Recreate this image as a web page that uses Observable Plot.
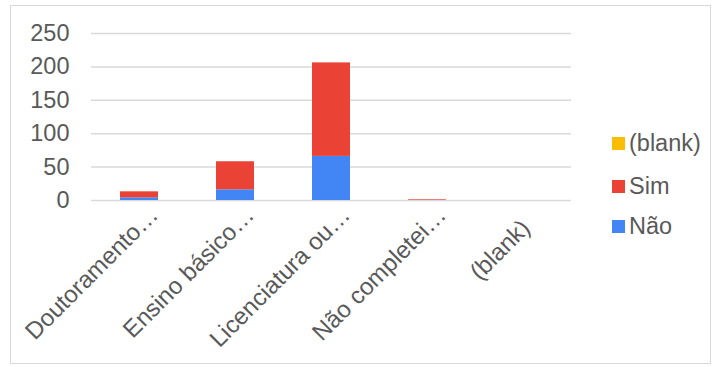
<!DOCTYPE html>
<html>
<head>
<meta charset="utf-8">
<script src="https://cdn.jsdelivr.net/npm/d3@7"></script>
<script src="https://cdn.jsdelivr.net/npm/@observablehq/plot@0.6"></script>
<style>
  html, body { margin: 0; padding: 0; background: #fff; }
  #wrap { position: relative; width: 720px; height: 367px; overflow: hidden;
          font-family: "Liberation Sans", Arial, sans-serif; color: #595959; }
  #frame { position: absolute; left: 10px; top: 5px; width: 701px; height: 359px;
           border: 1px solid #d9d9d9; box-sizing: border-box; pointer-events: none; }
  #chart { position: absolute; left: 0; top: 0; }
  #legend { position: absolute; left: 612px; top: 130px; font-size: 23.5px; }
  .item { position: absolute; left: 0; height: 26px; white-space: nowrap; }
  .sw { position: absolute; left: 0; top: 7px; width: 13px; height: 13px; }
  .lab { position: absolute; left: 17px; top: 0; line-height: 26px; }
</style>
</head>
<body>
<div id="wrap">
  <div id="chart"></div>
  <div id="legend"></div>
  <div id="frame"></div>
</div>
<script>
// Education level (truncated as in the source sheet)
const categories = ["Doutoramento…", "Ensino básico…", "Licenciatura ou…", "Não completei…", "(blank)"];
// Answer series, stacked bottom to top
const seriesNames = ["Não", "Sim", "(blank)"];
const seriesColors = ["#4285F4", "#EA4335", "#FBBC04"];
const naoValues = [4, 16, 66, 0, 0];
const simValues = [9, 42, 140, 1, 0];
const blankValues = [0, 0, 0, 0, 0];
const yTicks = [0, 50, 100, 150, 200, 250];

const seriesValues = [naoValues, simValues, blankValues];
const rows = [];
seriesNames.forEach((s, si) => {
  categories.forEach((c, ci) => rows.push({category: c, series: s, value: seriesValues[si][ci]}));
});

// Category labels: the long (truncated) ones sit flush against the axis,
// the short "(blank)" one is set slightly further down its slant.
const longLabels = categories.filter(c => c.endsWith("…"));
const shortLabels = categories.filter(c => !c.endsWith("…"));
const labelStyle = {
  x: d => d,
  frameAnchor: "bottom",
  text: d => d,
  rotate: -45,
  textAnchor: "end",
  lineAnchor: "bottom",
  fontSize: 24,
  fill: "#595959"
};

const chart = Plot.plot({
  width: 720,
  height: 367,
  marginTop: 33,
  marginBottom: 167,
  marginLeft: 91,
  marginRight: 149,
  style: {fontFamily: "'Liberation Sans', Arial, sans-serif", fontSize: "23.5px", color: "#595959", background: "transparent"},
  x: {domain: categories, paddingInner: 0.6, paddingOuter: 0.3, axis: null},
  y: {domain: [0, 250], axis: null},
  color: {domain: seriesNames, range: seriesColors},
  marks: [
    Plot.gridY(yTicks, {stroke: "#d9d9d9", strokeOpacity: 1, strokeWidth: 1.5}),
    Plot.axisY(yTicks, {tickSize: 0, tickPadding: 22, fontSize: 23.5, label: null, fill: "#595959"}),
    Plot.barY(rows, {x: "category", y: "value", fill: "series", order: seriesNames}),
    Plot.text(longLabels, {...labelStyle, dx: 20, dy: 16}),
    Plot.text(shortLabels, {...labelStyle, dx: 8, dy: 29})
  ]
});
document.getElementById("chart").appendChild(chart);

// Legend, listed top to bottom in reverse stacking order
const legend = document.getElementById("legend");
const tops = [0, 43, 83];
seriesNames.slice().reverse().forEach((s, i) => {
  const idx = seriesNames.indexOf(s);
  const item = document.createElement("div");
  item.className = "item";
  item.style.top = tops[i] + "px";
  item.innerHTML = `<div class="sw" style="background:${seriesColors[idx]}"></div><div class="lab">${s}</div>`;
  legend.appendChild(item);
});
</script>
</body>
</html>
